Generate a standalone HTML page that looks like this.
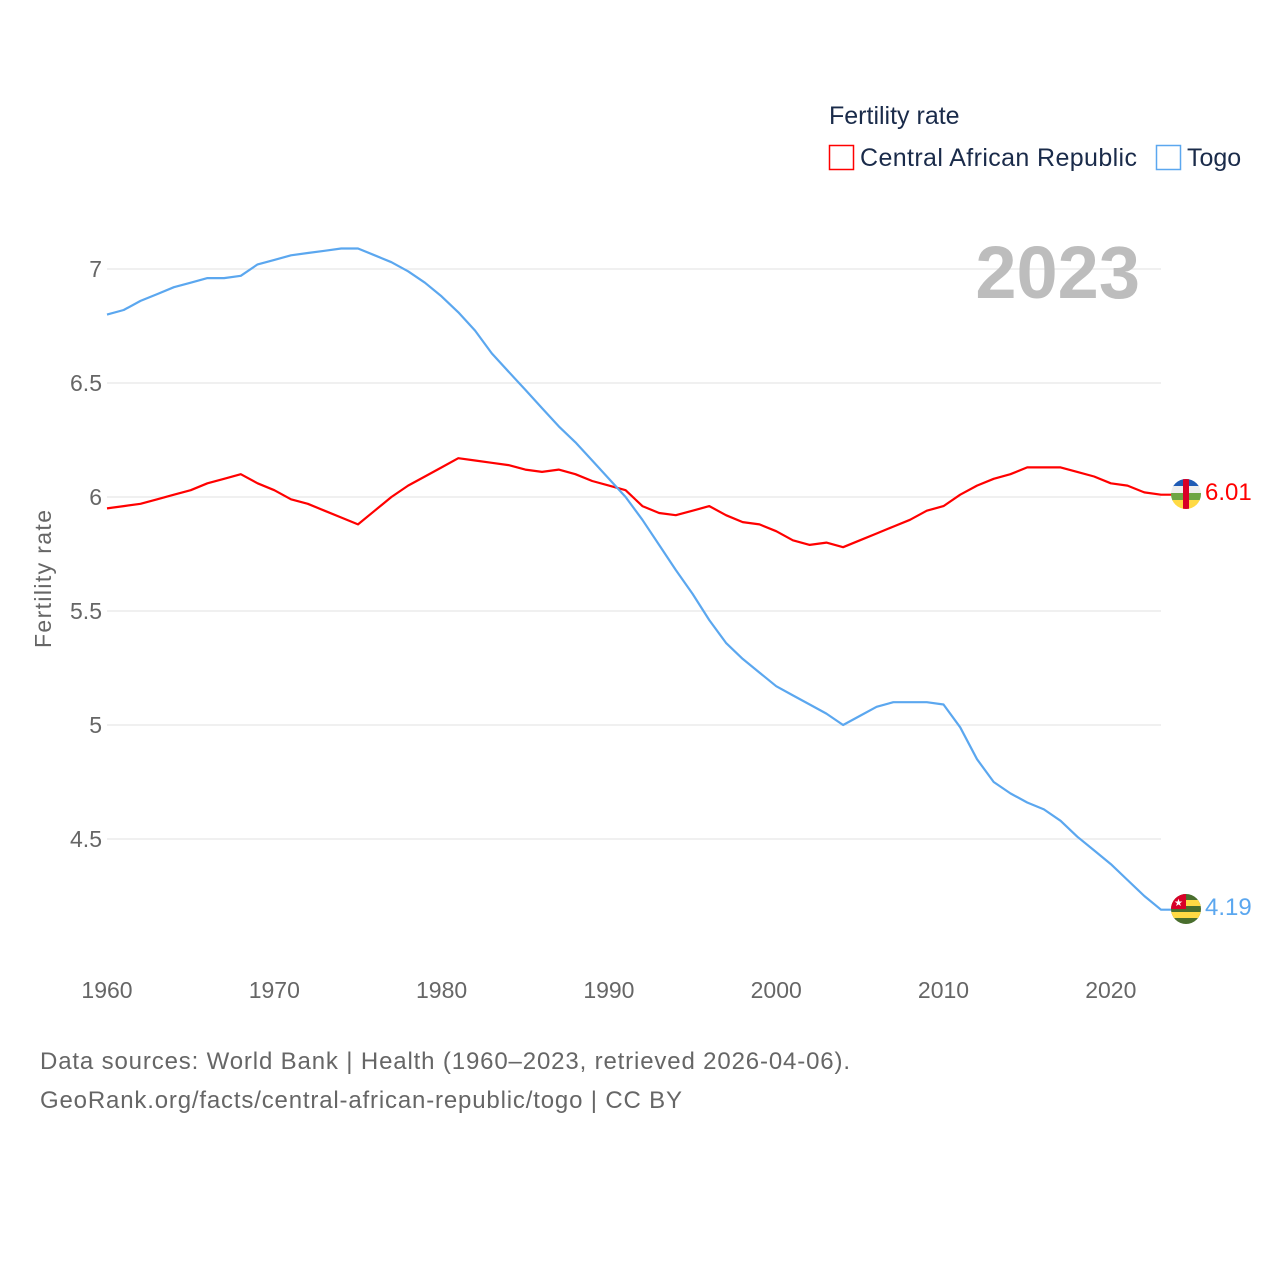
<!DOCTYPE html>
<html><head><meta charset="utf-8">
<style>
html,body{margin:0;padding:0;background:#fff;}
body{width:1280px;height:1280px;position:relative;overflow:hidden;font-family:"Liberation Sans",sans-serif;}
svg{position:absolute;left:0;top:0;}
</style></head>
<body>
<svg id="chart" width="1280" height="1280" xmlns="http://www.w3.org/2000/svg">
  <defs>
    <clipPath id="c1"><circle cx="1186" cy="494" r="15"/></clipPath>
    <clipPath id="c2"><circle cx="1186" cy="909" r="15"/></clipPath>
  </defs>
  <g id="grid"></g>
  <g id="yticks"></g>
  <g id="xticks"></g>
  <text x="51" y="579" transform="rotate(-90 51 579)" text-anchor="middle" font-size="23" fill="#666" textLength="138">Fertility rate</text>
  <text x="1140" y="298" text-anchor="end" font-size="74" font-weight="bold" fill="#bdbdbd">2023</text>
  <g>
    <text x="829" y="124" font-size="25" fill="#1a2b4a">Fertility rate</text>
    <g>
      <rect x="829.5" y="145.5" width="24" height="24" fill="none" stroke="#ff0000" stroke-width="1.5"/>
      <text x="860" y="166" font-size="25" fill="#1a2b4a" textLength="277">Central African Republic</text>
    </g>
    <g>
      <rect x="1156.5" y="145.5" width="24" height="24" fill="none" stroke="#5ba7ef" stroke-width="1.5"/>
      <text x="1187" y="166" font-size="25" fill="#1a2b4a">Togo</text>
    </g>
  </g>
  <path id="line-car" fill="none" stroke="#ff0000" stroke-width="2.2" stroke-linejoin="round"/>
  <path id="line-togo" fill="none" stroke="#5ba7ef" stroke-width="2.2" stroke-linejoin="round"/>
  <g clip-path="url(#c1)">
    <rect x="1171" y="479" width="30" height="8" fill="#1f5bb5"/>
    <rect x="1171" y="486" width="30" height="8" fill="#eeeeee"/>
    <rect x="1171" y="493" width="30" height="8" fill="#6da544"/>
    <rect x="1171" y="500" width="30" height="9" fill="#ffda44"/>
    <rect x="1183" y="479" width="6" height="30" fill="#d80027"/>
  </g>
  <g clip-path="url(#c2)">
    <rect x="1171" y="894" width="30" height="30" fill="#496e2d"/>
    <rect x="1171" y="900" width="30" height="6" fill="#ffda44"/>
    <rect x="1171" y="912" width="30" height="6" fill="#ffda44"/>
    <rect x="1171" y="894" width="15" height="15" fill="#d80027"/>
    <text x="1178.5" y="906" font-size="10" fill="#fff" text-anchor="middle">★</text>
  </g>
  <text id="lab-car" x="1205" y="500" font-size="24" fill="#ff0000">6.01</text>
  <text id="lab-togo" x="1205" y="915" font-size="24" fill="#5ba7ef">4.19</text>
  <text x="40" y="1069" font-size="24" fill="#666" textLength="810">Data sources: World Bank | Health (1960–2023, retrieved 2026-04-06).</text>
  <text x="40" y="1108" font-size="24" fill="#666" textLength="642">GeoRank.org/facts/central-african-republic/togo | CC BY</text>
</svg>
<script>
const years = [];
for (let y = 1960; y <= 2023; y++) years.push(y);
const carValues = [5.95,5.96,5.97,5.99,6.01,6.03,6.06,6.08,6.10,6.06,6.03,5.99,5.97,5.94,5.91,5.88,5.94,6.00,6.05,6.09,6.13,6.17,6.16,6.15,6.14,6.12,6.11,6.12,6.10,6.07,6.05,6.03,5.96,5.93,5.92,5.94,5.96,5.92,5.89,5.88,5.85,5.81,5.79,5.80,5.78,5.81,5.84,5.87,5.90,5.94,5.96,6.01,6.05,6.08,6.10,6.13,6.13,6.13,6.11,6.09,6.06,6.05,6.02,6.01];
const togoValues = [6.80,6.82,6.86,6.89,6.92,6.94,6.96,6.96,6.97,7.02,7.04,7.06,7.07,7.08,7.09,7.09,7.06,7.03,6.99,6.94,6.88,6.81,6.73,6.63,6.55,6.47,6.39,6.31,6.24,6.16,6.08,6.00,5.90,5.79,5.68,5.575,5.46,5.36,5.29,5.23,5.17,5.13,5.09,5.05,5.00,5.04,5.08,5.10,5.10,5.10,5.09,4.99,4.85,4.75,4.70,4.66,4.63,4.58,4.51,4.45,4.39,4.32,4.25,4.19];
const yTicks = [4.5,5,5.5,6,6.5,7];
const xTicks = [1960,1970,1980,1990,2000,2010,2020];

const NS = "http://www.w3.org/2000/svg";
const xS = v => 107 + (v - 1960) * (1161 - 107) / 63;
const yS = v => 269 + (7 - v) * 228;

const grid = document.getElementById('grid');
const yt = document.getElementById('yticks');
yTicks.forEach(t => {
  const l = document.createElementNS(NS, 'line');
  l.setAttribute('x1', 107); l.setAttribute('x2', 1161);
  l.setAttribute('y1', yS(t)); l.setAttribute('y2', yS(t));
  l.setAttribute('stroke', '#e6e6e6'); l.setAttribute('stroke-width', '1.2');
  
  
  grid.appendChild(l);
  const tx = document.createElementNS(NS, 'text');
  tx.setAttribute('x', 102); tx.setAttribute('y', yS(t) + 8);
  tx.setAttribute('text-anchor', 'end'); tx.setAttribute('font-size', '23'); tx.setAttribute('fill', '#666');
  tx.textContent = String(t);
  
  
  yt.appendChild(tx);
});
const xt = document.getElementById('xticks');
xTicks.forEach(t => {
  const tx = document.createElementNS(NS, 'text');
  tx.setAttribute('x', xS(t)); tx.setAttribute('y', 998);
  tx.setAttribute('text-anchor', 'middle'); tx.setAttribute('font-size', '23'); tx.setAttribute('fill', '#666');
  tx.textContent = String(t);
  
  
  xt.appendChild(tx);
});
function pathFor(vals) {
  return vals.map((v, i) => (i ? 'L' : 'M') + xS(years[i]).toFixed(1) + ',' + yS(v).toFixed(1)).join(' ');
}
document.getElementById('line-car').setAttribute('d', pathFor(carValues) + ' L1172,' + yS(carValues[carValues.length-1]).toFixed(1));
document.getElementById('line-togo').setAttribute('d', pathFor(togoValues) + ' L1172,' + yS(togoValues[togoValues.length-1]).toFixed(1));
document.getElementById('lab-car').textContent = carValues[carValues.length-1].toFixed(2);
document.getElementById('lab-togo').textContent = togoValues[togoValues.length-1].toFixed(2);
</script>
</body></html>
